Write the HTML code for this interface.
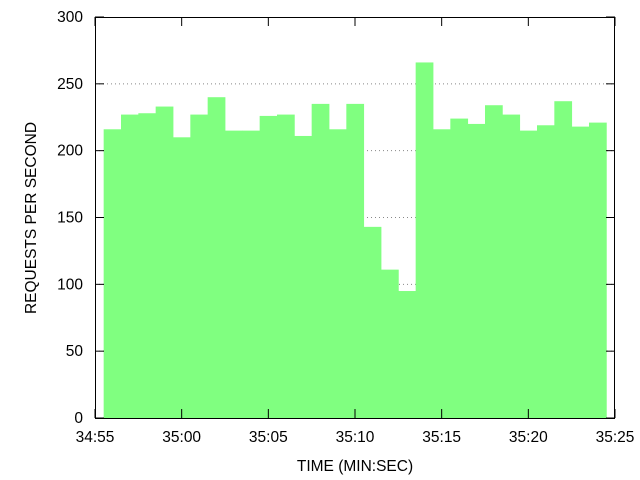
<!DOCTYPE html>
<html><head><meta charset="utf-8"><style>body{margin:0;background:#fff}svg{display:block}</style></head>
<body>
<svg id="chart" width="640" height="480" xmlns="http://www.w3.org/2000/svg" font-family="Liberation Sans, sans-serif" font-size="15.5">
<g id="grid"></g>
<g id="bars"></g>
<g id="axes"></g>
<text x="355" y="471" text-anchor="middle">TIME (MIN:SEC)</text>
<text transform="translate(36,218) rotate(-90)" text-anchor="middle">REQUESTS PER SECOND</text>
</svg>
<script>
const seconds = [1,2,3,4,5,6,7,8,9,10,11,12,13,14,15,16,17,18,19,20,21,22,23,24,25,26,27,28,29];
const requests = [216,227,228,233,210,227,240,215,215,226,227,211,235,216,235,143,111,95,266,216,224,220,234,227,215,219,237,218,221];
const yTicks = [0,50,100,150,200,250,300];
const xTickSeconds = [0,5,10,15,20,25,30];
const xTickLabels = ["34:55","35:00","35:05","35:10","35:15","35:20","35:25"];
const X0=95,X1=615,Y0=418,Y1=17;
const xs = s => X0 + s/30*(X1-X0);
const ys = v => Y0 - v/300*(Y0-Y1);
const NS="http://www.w3.org/2000/svg";
function mk(tag, attrs, parent){const e=document.createElementNS(NS,tag);for(const k in attrs)e.setAttribute(k,attrs[k]);parent.appendChild(e);return e;}
const grid=document.getElementById('grid'), bars=document.getElementById('bars'), axes=document.getElementById('axes');
yTicks.forEach(v=>{
  if(v>0&&v<300){const l=mk('line',{x1:X0,x2:X1,y1:ys(v),y2:ys(v),stroke:'#888','stroke-dasharray':'1,3','stroke-width':1},grid);
  
  }
});
seconds.forEach((s,i)=>{
  const r=mk('rect',{x:xs(s-0.5),y:ys(requests[i]),width:xs(s+0.5)-xs(s-0.5)+0.4,height:Y0-ys(requests[i]),fill:'#80ff80'},bars);
  
  
});
const frame=mk('rect',{x:X0+0.5,y:Y1+0.5,width:X1-X0-1,height:Y0-Y1,fill:'none',stroke:'#000','stroke-width':1},axes);


yTicks.forEach(v=>{
  const y=ys(v);
  mk('line',{x1:X0,x2:X0+9,y1:y,y2:y,stroke:'#000'},axes);
  mk('line',{x1:X1-9,x2:X1,y1:y,y2:y,stroke:'#000'},axes);
  const t=mk('text',{x:X0-12,y:y+5,'text-anchor':'end'},axes);t.textContent=v;
  
  
});
xTickSeconds.forEach((s,i)=>{
  const x=xs(s);
  mk('line',{x1:x,x2:x,y1:Y0,y2:Y0-9,stroke:'#000'},axes);
  mk('line',{x1:x,x2:x,y1:Y1,y2:Y1+9,stroke:'#000'},axes);
  const t=mk('text',{x:x,y:Y0+24,'text-anchor':'middle'},axes);t.textContent=xTickLabels[i];
  
  
});
</script>
</body></html>
